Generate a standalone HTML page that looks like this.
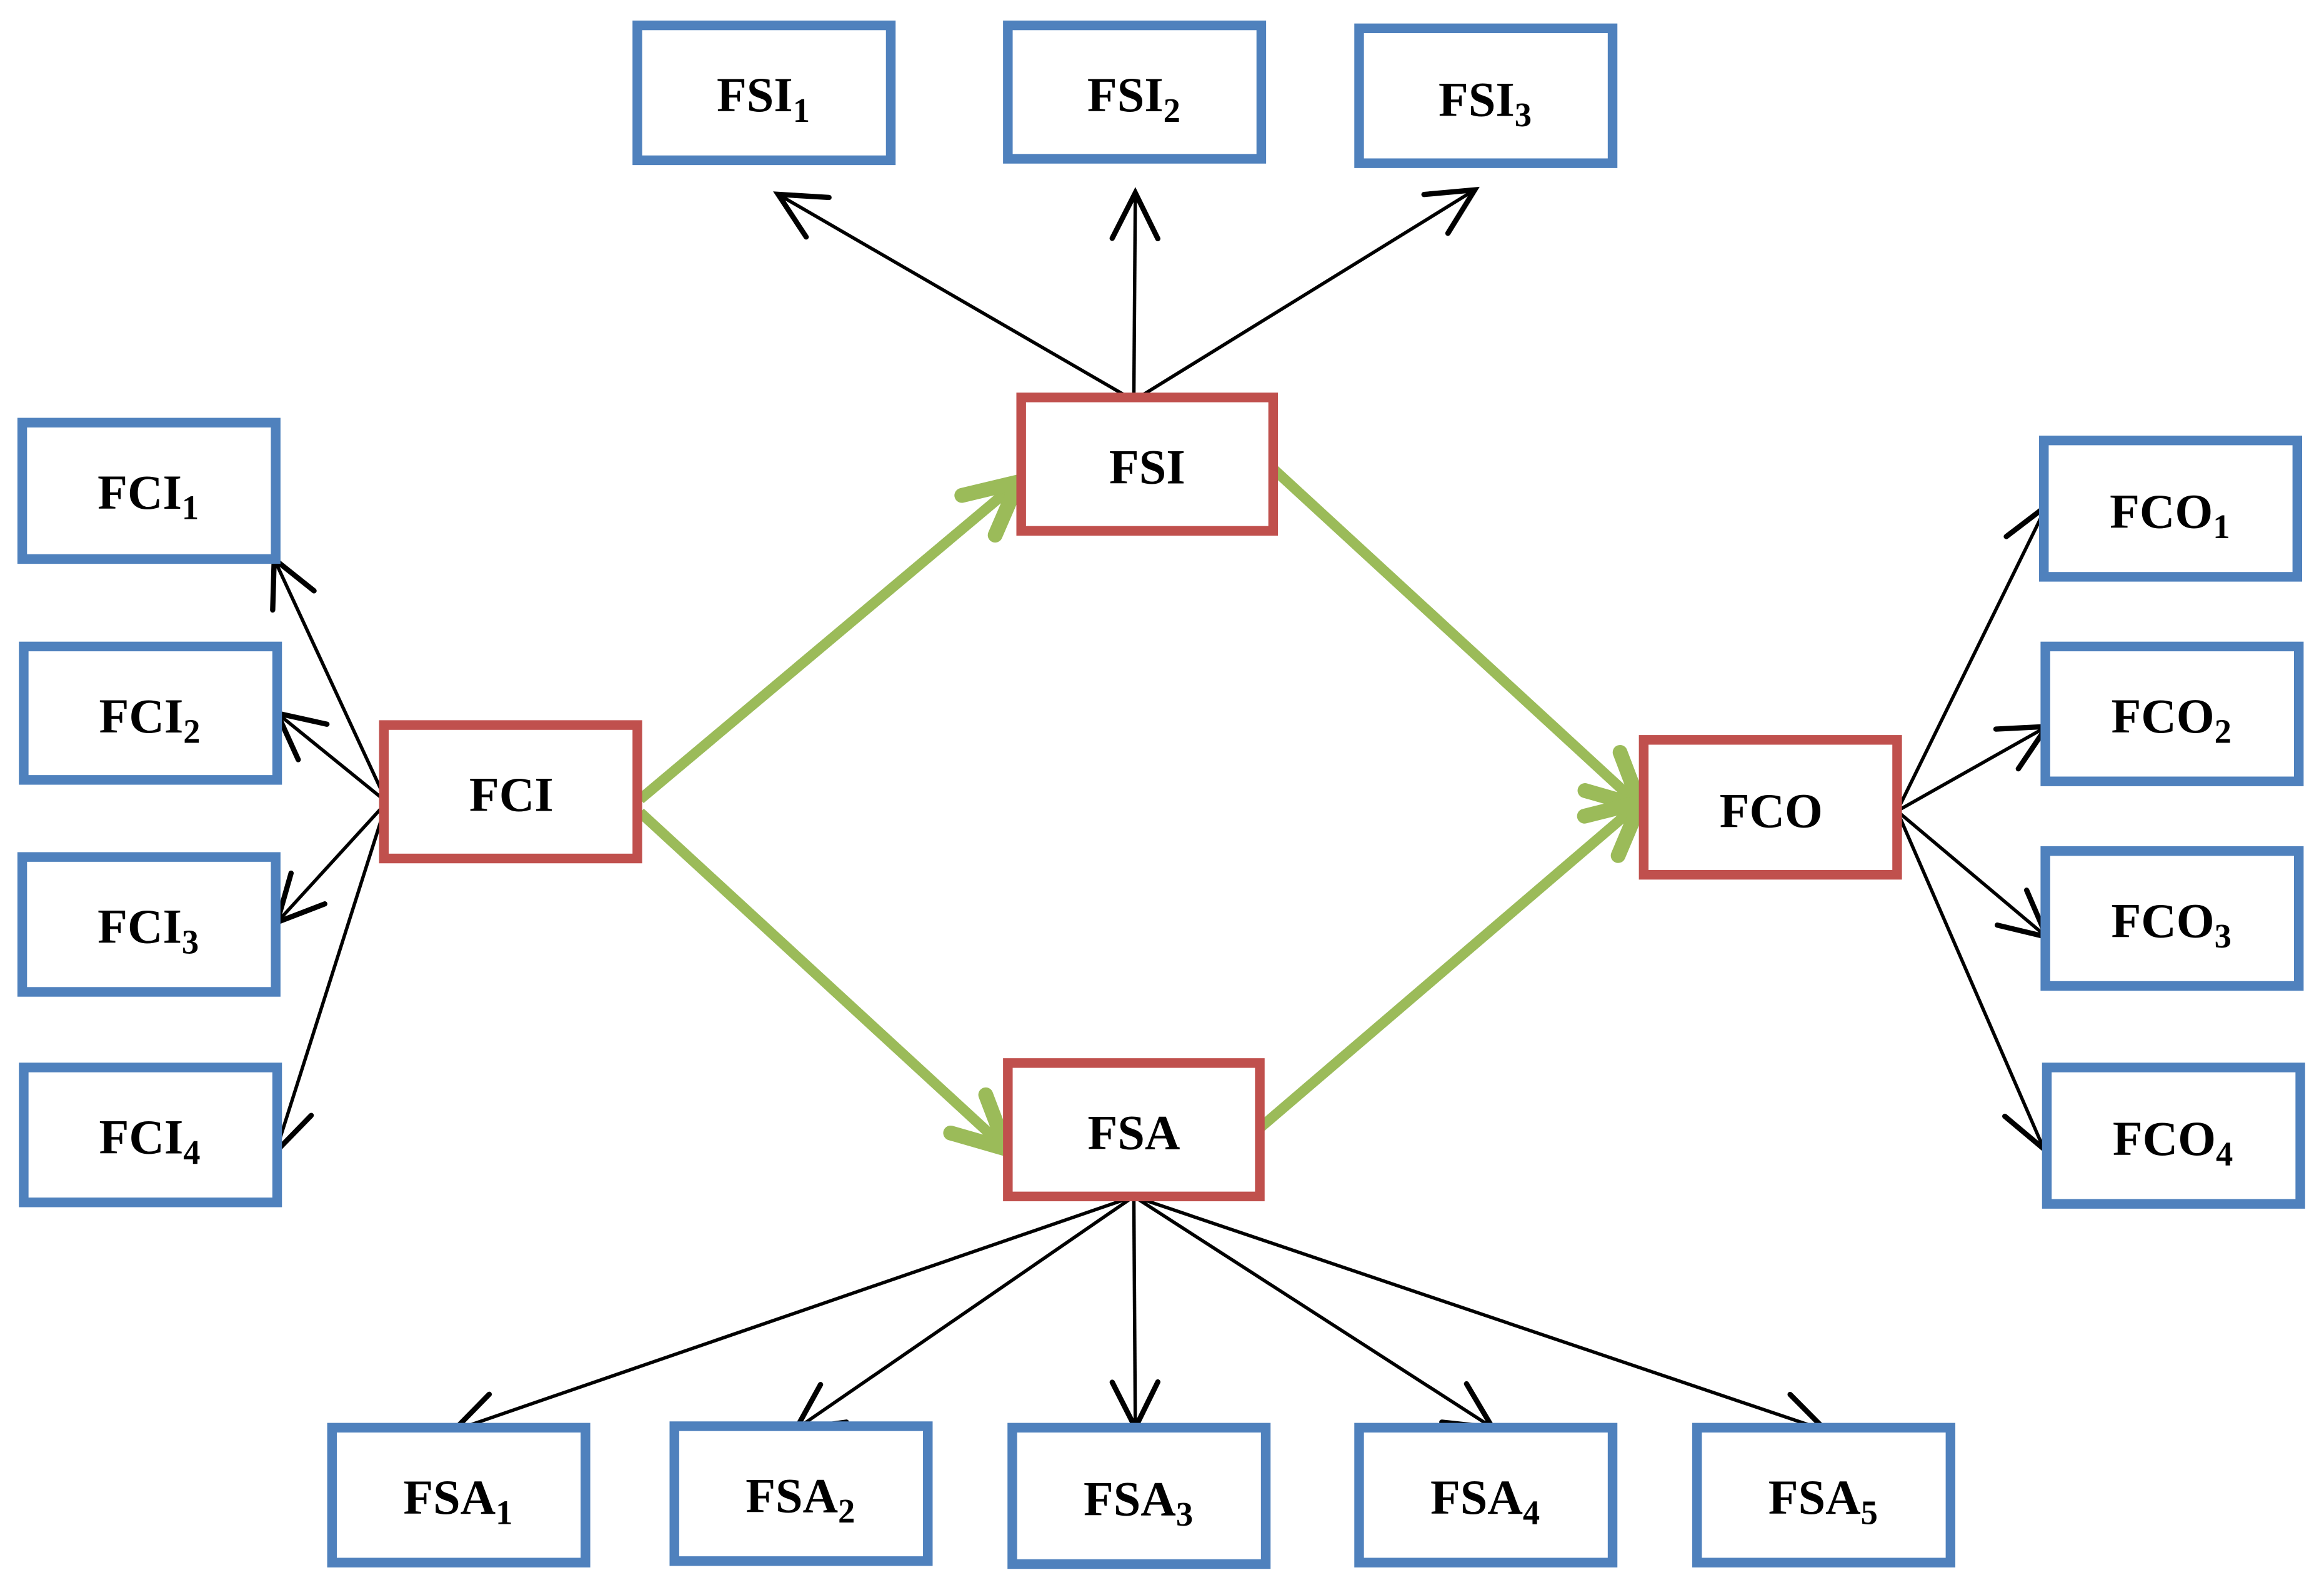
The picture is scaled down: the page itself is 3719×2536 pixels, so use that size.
<!DOCTYPE html>
<html><head><meta charset="utf-8"><style>html,body{margin:0;padding:0;background:#fff}svg{display:block}</style></head>
<body>
<svg width="3719" height="2536" viewBox="0 0 1568 1069" xmlns="http://www.w3.org/2000/svg">
<defs>
<marker id="bk" markerUnits="userSpaceOnUse" markerWidth="40" markerHeight="40" viewBox="-22 -12 26 24" refX="0" refY="0" orient="auto">
<path d="M-20,-10 L0,0 L-20,10" fill="none" stroke="#000" stroke-width="2.3" stroke-linecap="round"/></marker>
<marker id="gr" markerUnits="userSpaceOnUse" markerWidth="50" markerHeight="50" viewBox="-34 -20 40 40" refX="0" refY="0" orient="auto">
<path d="M-28,-14 L0,0 L-28,14" fill="none" stroke="#9bbb59" stroke-width="8" stroke-linecap="round" stroke-linejoin="round"/></marker>
</defs>
<g stroke="#000" stroke-width="2.3" fill="none" marker-end="url(#bk)">
<line x1="765" y1="270" x2="525" y2="131"/>
<line x1="765" y1="270" x2="766" y2="130"/>
<line x1="765" y1="270" x2="995" y2="128"/>
<line x1="261" y1="541" x2="185" y2="377"/>
<line x1="261" y1="541" x2="187" y2="481"/>
<line x1="261" y1="541" x2="187" y2="622"/>
<line x1="261" y1="541" x2="186" y2="777"/>
<line x1="1280" y1="547" x2="1381" y2="341"/>
<line x1="1280" y1="547" x2="1381" y2="490"/>
<line x1="1280" y1="547" x2="1381" y2="632"/>
<line x1="1280" y1="547" x2="1379" y2="775"/>
<line x1="765" y1="807" x2="306" y2="965"/>
<line x1="765" y1="807" x2="537" y2="964"/>
<line x1="765" y1="807" x2="766" y2="963"/>
<line x1="765" y1="807" x2="1007" y2="963"/>
<line x1="765" y1="807" x2="1232" y2="965"/>
</g>
<g stroke="#9bbb59" stroke-width="7" fill="none" marker-end="url(#gr)">
<line x1="432" y1="539" x2="687" y2="325"/>
<line x1="432" y1="548" x2="679" y2="775"/>
<line x1="860" y1="317" x2="1107" y2="544"/>
<line x1="851" y1="760" x2="1107" y2="541"/>
</g>
<g fill="#fff" stroke="#4f81bd" stroke-width="6.5">
<rect x="430" y="17" width="171" height="91"/>
<rect x="680" y="17" width="171" height="90"/>
<rect x="917" y="19" width="171" height="91"/>
<rect x="15" y="285" width="171" height="92"/>
<rect x="16" y="436" width="171" height="90"/>
<rect x="15" y="578" width="171" height="91"/>
<rect x="16" y="720" width="171" height="91"/>
<rect x="1379" y="297" width="171" height="92"/>
<rect x="1380" y="436" width="171" height="91"/>
<rect x="1380" y="574" width="171" height="91"/>
<rect x="1381" y="720" width="171" height="92"/>
<rect x="224" y="963" width="171" height="91"/>
<rect x="455" y="962" width="171" height="91"/>
<rect x="683" y="963" width="171" height="92"/>
<rect x="917" y="963" width="171" height="91"/>
<rect x="1145" y="963" width="171" height="91"/>
</g>
<g fill="#fff" stroke="#c0504d" stroke-width="6.5">
<rect x="689" y="268" width="170" height="90"/>
<rect x="259" y="489" width="171" height="90"/>
<rect x="1109" y="499" width="171" height="91"/>
<rect x="680" y="717" width="170" height="90"/>
</g>
<g font-family="Liberation Serif, serif" font-weight="bold" font-size="33" text-anchor="middle" fill="#000">
<text x="515" y="75">FSI<tspan font-size="23" dy="7">1</tspan></text>
<text x="765" y="75">FSI<tspan font-size="23" dy="7">2</tspan></text>
<text x="1002" y="78">FSI<tspan font-size="23" dy="7">3</tspan></text>
<text x="100" y="343">FCI<tspan font-size="23" dy="7">1</tspan></text>
<text x="101" y="494">FCI<tspan font-size="23" dy="7">2</tspan></text>
<text x="100" y="636">FCI<tspan font-size="23" dy="7">3</tspan></text>
<text x="101" y="778">FCI<tspan font-size="23" dy="7">4</tspan></text>
<text x="1464" y="356">FCO<tspan font-size="23" dy="7">1</tspan></text>
<text x="1465" y="494">FCO<tspan font-size="23" dy="7">2</tspan></text>
<text x="1465" y="632">FCO<tspan font-size="23" dy="7">3</tspan></text>
<text x="1466" y="779">FCO<tspan font-size="23" dy="7">4</tspan></text>
<text x="309" y="1021">FSA<tspan font-size="23" dy="7">1</tspan></text>
<text x="540" y="1020">FSA<tspan font-size="23" dy="7">2</tspan></text>
<text x="768" y="1022">FSA<tspan font-size="23" dy="7">3</tspan></text>
<text x="1002" y="1021">FSA<tspan font-size="23" dy="7">4</tspan></text>
<text x="1230" y="1021">FSA<tspan font-size="23" dy="7">5</tspan></text>
<text x="774" y="326">FSI</text>
<text x="345" y="547">FCI</text>
<text x="1195" y="558">FCO</text>
<text x="765" y="775">FSA</text>
</g>
</svg>
</body></html>
